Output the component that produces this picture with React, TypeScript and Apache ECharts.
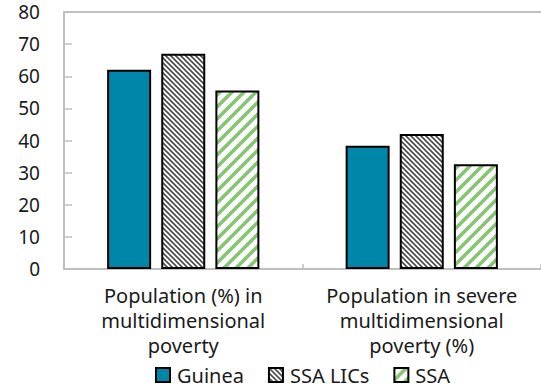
import React, { useEffect, useRef } from "react";
import * as echarts from "echarts";

const categories = [
  "Population (%) in\nmultidimensional\npoverty",
  "Population in severe\nmultidimensional\npoverty (%)",
];
const seriesNames = ["Guinea", "SSA LICs", "SSA"];
const guinea = [62, 38.4];
const ssaLics = [67, 42];
const ssa = [55.6, 32.6];
const yTicks = [0, 10, 20, 30, 40, 50, 60, 70, 80];

const FONT = "Noto Sans";
const TEXT = "#1a1a1a";
const AXIS = "#bfbfbf";

// Builds a repeating tile of diagonal stripes.
function stripes(size: number, width: number, color: string, dir: "down" | "up") {
  const c = document.createElement("canvas");
  c.width = size;
  c.height = size;
  const ctx = c.getContext("2d")!;
  ctx.fillStyle = "#ffffff";
  ctx.fillRect(0, 0, size, size);
  ctx.strokeStyle = color;
  ctx.lineWidth = width;
  for (const o of [-size, 0, size]) {
    ctx.beginPath();
    if (dir === "down") {
      ctx.moveTo(o - 1, -1);
      ctx.lineTo(o + size + 1, size + 1);
    } else {
      ctx.moveTo(o - 1, size + 1);
      ctx.lineTo(o + size + 1, -1);
    }
    ctx.stroke();
  }
  return { image: c, repeat: "repeat" as const };
}

export default function App() {
  const ref = useRef<HTMLDivElement>(null);

  useEffect(() => {
    if (!ref.current) return;
    const chart = echarts.init(ref.current, undefined, { renderer: "svg" });

    const grayHatch = stripes(5, 1.6, "#4a4a4a", "down");
    const greenHatch = stripes(12, 3.6, "#86c474", "up");

    const barBase = {
      type: "bar" as const,
      barWidth: 44,
      barGap: "23%",
    };

    chart.setOption({
      animation: false,
      textStyle: { fontFamily: FONT },
      grid: { left: 64, top: 12, width: 489, height: 257 },
      legend: {
        data: seriesNames,
        left: 150,
        top: 360,
        icon: "rect",
        itemWidth: 14,
        itemHeight: 14,
        itemGap: 24,
        textStyle: { fontFamily: FONT, fontSize: 20, lineHeight: 20, color: TEXT, padding: [0, 0, 0, 2] },
      },
      xAxis: [
        {
          type: "category",
          data: categories,
          axisLine: { lineStyle: { color: AXIS, width: 2 } },
          axisTick: { show: true, inside: true, length: 5, lineStyle: { color: AXIS, width: 1.5 } },
          axisLabel: {
            interval: 0,
            margin: 14,
            fontFamily: FONT,
            fontSize: 20,
            lineHeight: 25,
            color: TEXT,
            align: "center",
          },
        },
        {
          type: "category",
          data: categories,
          position: "top",
          axisLine: { show: true, lineStyle: { color: AXIS, width: 2 } },
          axisTick: { show: false },
          axisLabel: { show: false },
        },
      ],
      yAxis: {
        type: "value",
        min: yTicks[0],
        max: yTicks[yTicks.length - 1],
        interval: yTicks[1] - yTicks[0],
        axisLine: { show: true, lineStyle: { color: AXIS, width: 2 } },
        axisTick: { show: true, inside: true, length: 8, lineStyle: { color: AXIS, width: 1.5 } },
        splitLine: { show: false },
        axisLabel: { margin: 24, fontFamily: FONT, fontSize: 19, color: TEXT },
      },
      series: [
        {
          ...barBase,
          name: seriesNames[0],
          data: guinea,
          itemStyle: { color: "#0086a8", borderColor: "#000", borderWidth: 2 },
        },
        {
          ...barBase,
          name: seriesNames[1],
          data: ssaLics,
          itemStyle: { color: grayHatch, borderColor: "#000", borderWidth: 2 },
        },
        {
          ...barBase,
          name: seriesNames[2],
          data: ssa,
          itemStyle: { color: greenHatch, borderColor: "#000", borderWidth: 2 },
        },
      ],
    });

    return () => chart.dispose();
  }, []);

  return <div ref={ref} style={{ width: 541, height: 388, position: "absolute", left: 0, top: 0 }} />;
}
